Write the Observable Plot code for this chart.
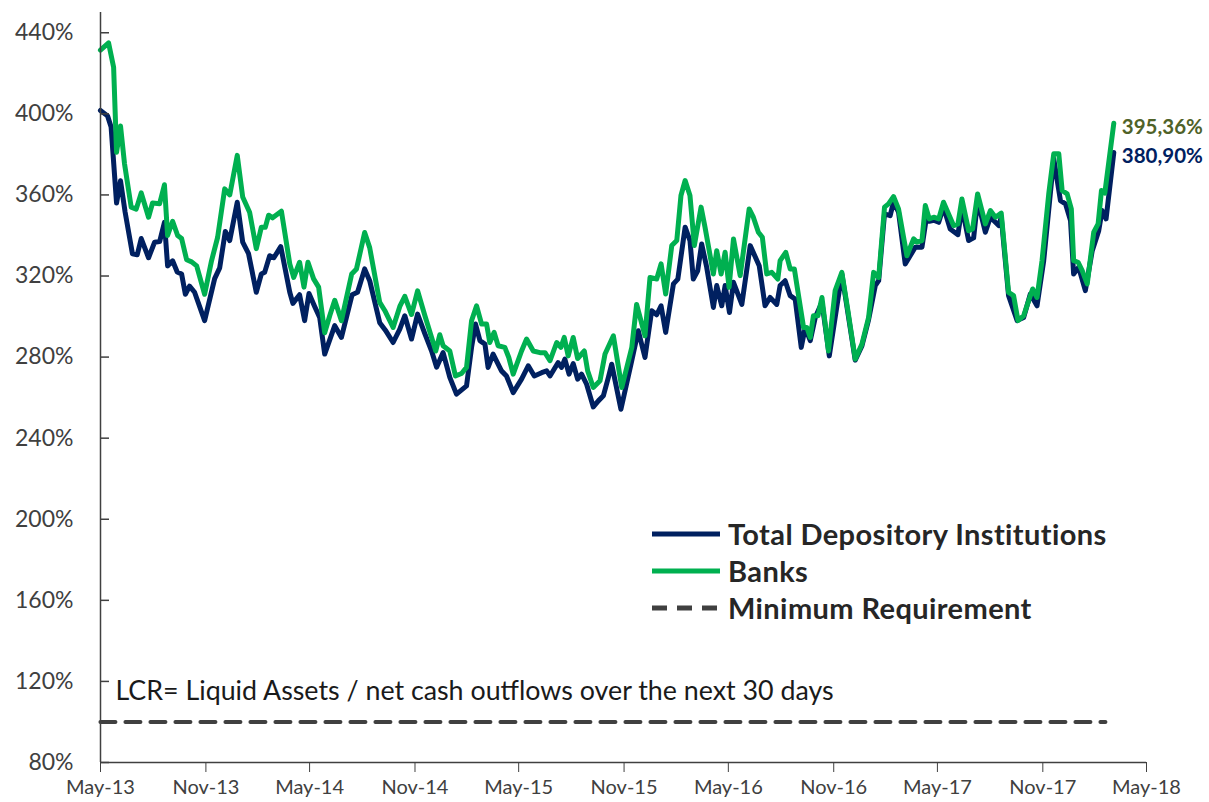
<!DOCTYPE html>
<html><head><meta charset="utf-8">
<script src="https://cdn.jsdelivr.net/npm/d3@7"></script>
<script src="https://cdn.jsdelivr.net/npm/@observablehq/plot@0.6"></script>
<style>
body{margin:0;background:#fff;}
#wrap{position:relative;width:1209px;height:802px;font-family:Lato,sans-serif;}
#legend{position:absolute;left:652px;top:515px;}
.row{display:flex;align-items:center;height:37px;}
.row svg{margin-right:8px;}
.lab{font-weight:bold;font-size:29px;letter-spacing:0.4px;color:#262626;white-space:nowrap;}
</style></head><body><div id="wrap"></div>
<script>
// x tick labels (every 6 months from May 2013)
const tickLabels = ["May-13","Nov-13","May-14","Nov-14","May-15","Nov-15","May-16","Nov-16","May-17","Nov-17","May-18"];
const yTicks = [80,120,160,200,240,280,320,360,400,440];
const seriesNames = ["Total Depository Institutions","Banks","Minimum Requirement"];
const seriesColors = ["#002060","#00B050","#404040"];
const endLabels = ["380,90%","395,36%"];
const endLabelColors = ["#002060","#4F6228"];
const noteText = "LCR= Liquid Assets / net cash outflows over the next 30 days";

// Total Depository Institutions: decimal year, LCR %
const totalT = [2013.333,2013.367,2013.384,2013.410,2013.429,2013.451,2013.486,2013.509,2013.528,2013.563,2013.592,2013.616,2013.639,2013.654,2013.678,2013.700,2013.721,2013.739,2013.759,2013.783,2013.831,2013.879,2013.903,2013.930,2013.951,2013.987,2014.013,2014.041,2014.078,2014.102,2014.118,2014.142,2014.162,2014.195,2014.238,2014.253,2014.285,2014.309,2014.330,2014.357,2014.381,2014.405,2014.453,2014.485,2014.536,2014.562,2014.596,2014.620,2014.668,2014.695,2014.732,2014.764,2014.788,2014.820,2014.849,2014.884,2014.916,2014.940,2014.971,2015.003,2015.035,2015.083,2015.107,2015.126,2015.147,2015.171,2015.186,2015.210,2015.250,2015.274,2015.306,2015.346,2015.378,2015.407,2015.442,2015.466,2015.482,2015.521,2015.537,2015.553,2015.573,2015.593,2015.614,2015.633,2015.657,2015.689,2015.713,2015.737,2015.761,2015.777,2015.821,2015.869,2015.904,2015.936,2015.968,2015.992,2016.013,2016.035,2016.072,2016.093,2016.128,2016.151,2016.167,2016.188,2016.207,2016.231,2016.263,2016.279,2016.303,2016.319,2016.340,2016.359,2016.399,2016.439,2016.482,2016.510,2016.534,2016.566,2016.582,2016.606,2016.630,2016.654,2016.683,2016.702,2016.726,2016.750,2016.782,2016.817,2016.877,2016.941,2016.973,2017.005,2017.037,2017.053,2017.081,2017.108,2017.124,2017.148,2017.180,2017.228,2017.260,2017.284,2017.295,2017.316,2017.340,2017.363,2017.395,2017.432,2017.451,2017.483,2017.507,2017.526,2017.563,2017.587,2017.627,2017.639,2017.674,2017.715,2017.746,2017.778,2017.810,2017.842,2017.890,2017.922,2017.946,2017.970,2017.985,2018.009,2018.041,2018.074,2018.105,2018.121,2018.140,2018.177];
const totalV = [401.7,399,393.5,356,367,351.5,331,330.5,338.5,329,336.7,337,346.5,325,327.5,322,321,311,315,312,298,318.7,324,342,337.5,356.4,336.7,331,312,321,321.8,330,329,334.5,312,306.5,310.8,298,311.4,305,299.6,281.5,295.5,289.7,310.8,312,323.5,317.7,297,293.3,287.2,293.8,300.4,288.9,301.2,291.4,283,275,282.2,270,261.7,265.8,284.8,296.3,288.1,286.4,274.9,281.5,273.2,270.7,262.5,269.1,275.7,270.7,272.3,273.2,270.7,277.3,274.9,279,271.6,276.8,269.1,271.6,266.6,255.4,258.4,260.9,270,276.5,254.3,276.5,293,279.8,302.9,300.9,305.3,292.2,316.1,318.5,344.1,337.5,318.5,322.6,335.8,324.3,304.5,315.3,305.3,315.3,302,316.9,306,335,325.1,305.3,309.4,306,315.3,317.7,310.3,308.6,284.8,294.6,288.1,299.6,307,280.6,321,278.5,285.5,298.5,315.3,317.7,350.7,349.8,356.4,351.5,325.9,334.2,334.2,350.7,347,347.5,346.5,354,343.2,340.4,354,337.5,338.8,357.2,341.6,349,344.9,349,310.3,298,299.5,311.1,305.3,327.6,377.8,357.2,355.6,347.4,321,324.3,312.8,332.5,342.4,352.3,348.2,380.9];

// Banks: decimal year, LCR %
const banksT = [2013.333,2013.372,2013.396,2013.410,2013.429,2013.448,2013.480,2013.504,2013.528,2013.563,2013.582,2013.616,2013.639,2013.654,2013.678,2013.702,2013.721,2013.745,2013.769,2013.793,2013.831,2013.864,2013.893,2013.927,2013.951,2013.987,2014.013,2014.046,2014.078,2014.102,2014.121,2014.137,2014.156,2014.198,2014.238,2014.257,2014.285,2014.306,2014.325,2014.352,2014.376,2014.405,2014.429,2014.453,2014.485,2014.534,2014.557,2014.596,2014.620,2014.668,2014.692,2014.732,2014.764,2014.788,2014.820,2014.849,2014.884,2014.916,2014.936,2014.955,2014.971,2015.003,2015.030,2015.059,2015.083,2015.107,2015.131,2015.155,2015.179,2015.194,2015.215,2015.234,2015.266,2015.285,2015.306,2015.346,2015.370,2015.402,2015.434,2015.458,2015.482,2015.514,2015.534,2015.550,2015.569,2015.593,2015.614,2015.646,2015.662,2015.689,2015.721,2015.745,2015.785,2015.825,2015.873,2015.896,2015.936,2015.960,2015.992,2016.013,2016.035,2016.064,2016.088,2016.108,2016.128,2016.151,2016.172,2016.204,2016.223,2016.263,2016.279,2016.300,2016.319,2016.338,2016.359,2016.391,2016.434,2016.454,2016.478,2016.497,2016.518,2016.542,2016.571,2016.582,2016.609,2016.630,2016.650,2016.670,2016.694,2016.710,2016.726,2016.741,2016.763,2016.782,2016.813,2016.845,2016.877,2016.906,2016.941,2016.973,2017.005,2017.029,2017.053,2017.081,2017.100,2017.124,2017.148,2017.172,2017.188,2017.220,2017.236,2017.260,2017.276,2017.295,2017.316,2017.340,2017.363,2017.411,2017.432,2017.451,2017.483,2017.502,2017.526,2017.563,2017.587,2017.611,2017.639,2017.674,2017.698,2017.719,2017.746,2017.770,2017.789,2017.810,2017.834,2017.866,2017.890,2017.914,2017.930,2017.954,2017.974,2017.985,2018.006,2018.026,2018.050,2018.081,2018.102,2018.118,2018.134,2018.177];
const banksV = [431.4,435,423,381,394,375.5,354,353,361,349,356,355.7,365,340,347,340,338.5,328,327,325,311,327.5,339,363,360,379.5,359,351.5,333.5,344,344,350,348.7,352,326,319.3,326.8,314.5,326.8,318.6,314.5,292,300.4,308,298,321,323.5,341.5,334,307,303,294.6,305,310,301,312.7,300.4,289.7,283,291,285.6,283,270.7,271.9,274.9,297.9,305.3,296.3,296.3,287.2,292.2,285.6,284.8,279.8,271.6,283,288.9,283,282.2,282.2,278.2,287.2,284.8,289.7,280.6,289.7,279.3,283,273.2,265,268.3,281.5,290.5,265,284.8,306,290.5,319.3,318.5,326,311.1,335,337.5,359.7,367.1,359.7,335,354,344.1,321,332.5,321,331.7,314.4,338.3,320.2,353.1,349,341.6,339.1,321,321.8,318.5,327.6,331.7,323.5,323.5,310.3,294.6,294.6,289.7,300.4,300.4,309.4,283,312.8,321.8,302.9,279,286.4,299.6,321.8,319.3,354,355.6,359.2,353.1,339.1,330,338.3,336.7,337.5,354.8,348.2,349,348.2,356.4,344.9,345.7,358,342.4,343.2,360.5,345.7,352.3,349,351,311.9,310.3,298,300.4,307.8,313.6,309.4,327.6,360.5,380.3,380.3,362.2,360.5,353.1,327.6,326.8,322.7,316.1,341.6,345.7,362.2,360.9,395.36];

// Minimum requirement
const minReqT = [2013.333, 2018.137];
const minReqV = [100, 100];

const start = new Date(Date.UTC(2013,4,1)), end = new Date(Date.UTC(2018,4,1));
const toDate = t => new Date(+start + (t - 2013.3333) / 5 * (end - start));
const tickDates = tickLabels.map((_, i) => d3.utcMonth.offset(start, 6 * i));

const total = totalT.map((t, i) => ({date: toDate(t), v: totalV[i]}));
const banks = banksT.map((t, i) => ({date: toDate(t), v: banksV[i]}));
const minReq = minReqT.map((t, i) => ({date: toDate(t), v: minReqV[i]}));
const ends = [total[total.length - 1], banks[banks.length - 1]].map((d, i) => ({...d, label: endLabels[i], color: endLabelColors[i]}));

const W = 1209, H = 802, mL = 100, mR = 63, mT = 12, mB = 40;
const chart = Plot.plot({
  width: W, height: H,
  marginLeft: mL, marginRight: mR, marginTop: mT, marginBottom: mB,
  x: {type: "utc", domain: [start, end], label: null},
  y: {domain: [80, 450], label: null},
  style: {fontFamily: "Lato, sans-serif", fontSize: "20px", color: "#404040", background: "white", overflow: "visible"},
  marks: [
    Plot.lineY(minReq, {x: "date", y: "v", stroke: seriesColors[2], strokeWidth: 4, strokeDasharray: "15,10"}),
    Plot.lineY(total, {x: "date", y: "v", stroke: seriesColors[0], strokeWidth: 5, strokeLinejoin: "round"}),
    Plot.lineY(banks, {x: "date", y: "v", stroke: seriesColors[1], strokeWidth: 5, strokeLinejoin: "round"}),
    Plot.text(ends, {x: "date", y: "v", text: "label", fill: "color", dx: 8, dy: 4, textAnchor: "start", fontWeight: "bold", fontSize: 20.5}),
    Plot.text([noteText], {x: start, y: 115, dx: 15, textAnchor: "start", fontSize: 26.8, fill: "#1a1a1a"}),
    Plot.axisX({ticks: tickDates, tickFormat: d => tickLabels[tickDates.findIndex(t => +t === +d)], tickSize: 10, tickPadding: 7, fontSize: 20, stroke: "#404040", fill: "#404040", label: null}),
    Plot.axisY({ticks: yTicks, tickFormat: d => d + "%", tickSize: 0, tickPadding: 27, fontSize: 23, fill: "#404040", label: null}),
    Plot.tickY(yTicks, {y: d => d, stroke: "#404040", strokeWidth: 1.5, insetRight: W - mL - mR - 9}),
    Plot.ruleX([start], {stroke: "#404040", strokeWidth: 1.5}),
    Plot.ruleY([80], {stroke: "#404040", strokeWidth: 1.5})
  ]
});
const wrap = document.getElementById("wrap");
wrap.appendChild(chart);

const legend = document.createElement("div");
legend.id = "legend";
seriesNames.forEach((name, i) => {
  const row = document.createElement("div");
  row.className = "row";
  const dash = i === 2 ? ' stroke-dasharray="15,10"' : '';
  row.innerHTML = `<svg width="68" height="10"><line x1="0" y1="5" x2="68" y2="5" stroke="${seriesColors[i]}" stroke-width="5"${dash}/></svg><span class="lab">${name}</span>`;
  legend.appendChild(row);
});
wrap.appendChild(legend);
</script></body></html>
